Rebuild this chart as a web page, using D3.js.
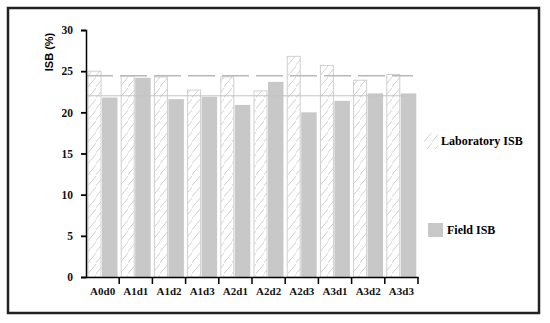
<!DOCTYPE html>
<html>
<head>
<meta charset="utf-8">
<title>ISB</title>
<script src="https://cdn.jsdelivr.net/npm/d3@7"></script>
<style>
body { margin: 0; background: white; }
</style>
</head>
<body>
<svg width="550" height="323"></svg>
<script>
// data
const categories = ["A0d0", "A1d1", "A1d2", "A1d3", "A2d1", "A2d2", "A2d3", "A3d1", "A3d2", "A3d3"];
const labISB   = [25.0, 24.4, 24.3, 22.7, 24.3, 22.6, 26.8, 25.7, 23.9, 24.6];
const fieldISB = [21.8, 24.2, 21.6, 21.9, 20.9, 23.7, 20.0, 21.4, 22.3, 22.3];
const yTicks = [0, 5, 10, 15, 20, 25, 30];

var serif = "'Liberation Serif', 'Times New Roman', serif";

var svg = d3.select("svg");

// hatch
var defs = svg.append("defs");
var pat = defs.append("pattern")
    .attr("id", "hatch")
    .attr("patternUnits", "userSpaceOnUse")
    .attr("width", 8).attr("height", 11);
pat.append("rect").attr("width", 8).attr("height", 11).attr("fill", "white");
pat.append("path").attr("d", "M-2,12 L9,-1")
    .attr("stroke", "#c4c4c4").attr("stroke-width", 0.8).attr("fill", "none");

// frame
svg.append("rect")
    .attr("x", 8).attr("y", 8).attr("width", 531).attr("height", 305)
    .attr("fill", "none").attr("stroke", "#222").attr("stroke-width", 2.5);

var x = d3.scaleBand().domain(categories).range([86, 418]);
var y = d3.scaleLinear().domain([0, 30]).range([277, 30]);

var g = svg.append("g");

// bars
g.selectAll(".lab").data(labISB).enter().append("rect")
    .attr("x", (d, i) => x(categories[i]) + 2)
    .attr("y", d => y(d))
    .attr("width", 13)
    .attr("height", d => y(0) - y(d))
    .attr("fill", "url(#hatch)")
    .attr("stroke", "#cfcfcf").attr("stroke-width", 1);

g.selectAll(".field").data(fieldISB).enter().append("rect")
    .attr("x", (d, i) => x(categories[i]) + 16)
    .attr("y", d => y(d))
    .attr("width", 15.5)
    .attr("height", d => y(0) - y(d))
    .attr("fill", "#c8c8c8");

// mean lines
g.append("line")
    .attr("x1", 86).attr("x2", 413)
    .attr("y1", y(d3.mean(labISB))).attr("y2", y(d3.mean(labISB)))
    .attr("stroke", "#b8b8b8").attr("stroke-width", 1.5)
    .attr("stroke-dasharray", "27,7");
g.append("line")
    .attr("x1", 86).attr("x2", 413)
    .attr("y1", y(d3.mean(fieldISB))).attr("y2", y(d3.mean(fieldISB)))
    .attr("stroke", "#c4c4c4").attr("stroke-width", 1);

// axes
var yAxis = g.append("g").attr("transform", "translate(86,0)")
    .call(d3.axisLeft(y).tickValues(yTicks).tickSize(5).tickPadding(8));
yAxis.attr("font-family", null).attr("font-size", null);
yAxis.select(".domain").attr("stroke", "#000").attr("stroke-width", 1.5);
yAxis.selectAll(".tick line").attr("stroke-width", 1.8);
yAxis.selectAll("text")
    .style("font-family", serif).style("font-weight", "bold")
    .style("font-size", "11.5px").attr("fill", "#111");

var xAxis = g.append("g").attr("transform", "translate(0,277)")
    .call(d3.axisBottom(x).tickSize(0).tickPadding(10));
xAxis.attr("font-family", null).attr("font-size", null);
xAxis.select(".domain").attr("stroke", "#000").attr("stroke-width", 1.5);
xAxis.selectAll("text")
    .style("font-family", serif).style("font-weight", "bold")
    .style("font-size", "11px").attr("fill", "#111");

// band separators under the x axis
g.selectAll(".sep").data(categories).enter().append("line")
    .attr("x1", d => x(d) + x.bandwidth())
    .attr("x2", d => x(d) + x.bandwidth())
    .attr("y1", 277).attr("y2", 284)
    .attr("stroke", "#000").attr("stroke-width", 1.5);

// y title
svg.append("text")
    .attr("transform", "translate(53,52) rotate(-90)")
    .attr("text-anchor", "middle")
    .style("font-family", "'Liberation Sans', Arial, sans-serif")
    .style("font-weight", "bold").style("font-size", "11px")
    .text("ISB (%)");

// legend
svg.append("rect").attr("x", 424).attr("y", 133).attr("width", 14).attr("height", 16)
    .attr("fill", "url(#hatch)");
svg.append("text").attr("x", 441).attr("y", 145)
    .style("font-family", serif).style("font-weight", "bold")
    .style("font-size", "12px").text("Laboratory ISB");
svg.append("rect").attr("x", 428).attr("y", 223).attr("width", 15).attr("height", 14)
    .attr("fill", "#c8c8c8");
svg.append("text").attr("x", 447).attr("y", 234)
    .style("font-family", serif).style("font-weight", "bold")
    .style("font-size", "12px").text("Field ISB");
</script>
</body>
</html>
